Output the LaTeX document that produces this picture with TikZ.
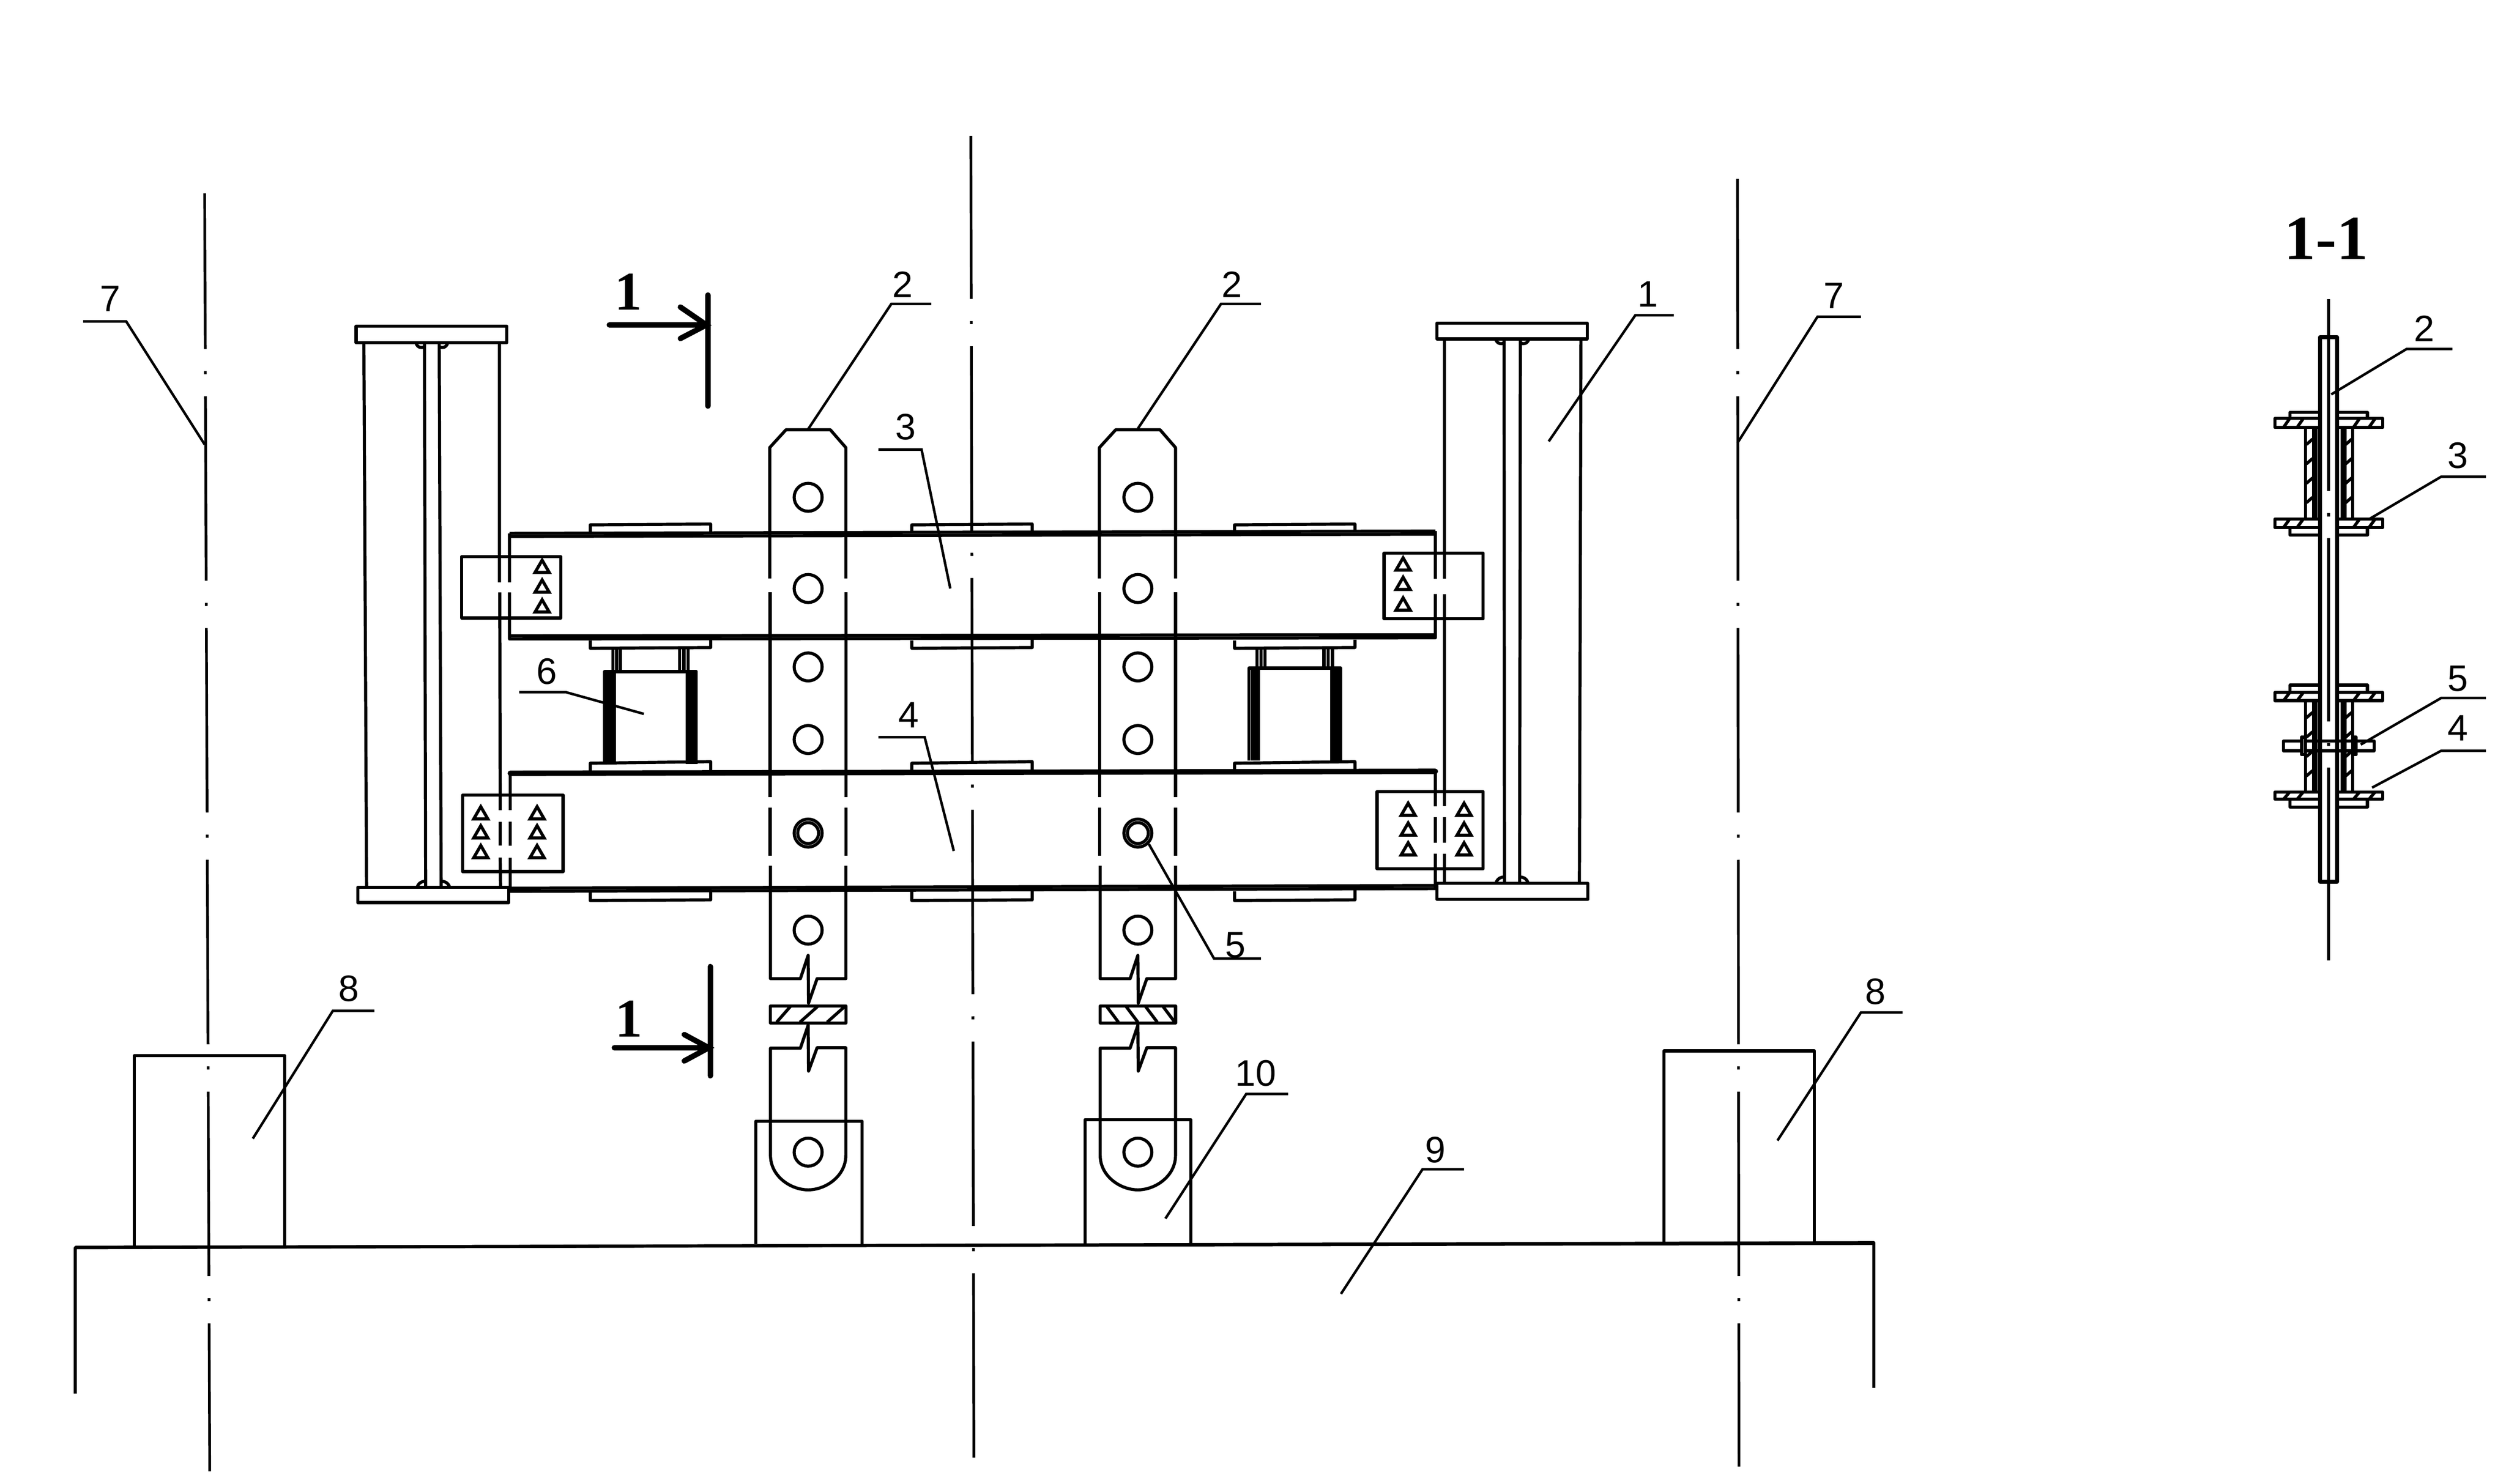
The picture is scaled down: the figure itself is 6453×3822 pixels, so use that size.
\documentclass[tikz,border=0pt]{standalone}
\usepackage{fontspec}
\setmainfont{Liberation Sans}
\usetikzlibrary{shapes.geometric}
\newfontfamily\markfont{Liberation Serif}

\tikzset{
	part/.style = {draw = black, line width = 0.8mm, line join = round},
	heavy/.style = {draw = black, line width = 1.4mm, line cap = round},
	leader/.style = {draw = black, line width = 0.65mm},
	axis/.style = {draw = black, line width = 0.7mm, dash pattern = on 47.5mm off 5.7mm on 0.8mm off 5.7mm},
	hole/.style = {circle, draw = black, line width = 0.8mm, minimum size = 7.2mm, inner sep = 0pt},
	bolt/.style = {regular polygon, regular polygon sides = 3, draw = black, line width = 0.8mm, minimum size = 4.2mm, inner sep = 0pt},
	tag/.style = {inner sep = 0pt, font = \fontsize{27}{27}\selectfont},
	secmark/.style = {inner sep = 0pt, font = \markfont\bfseries\fontsize{40}{40}\selectfont},
}

\begin{document}
\begin{tikzpicture}[x = 0.1mm, y = -0.1mm]
	\useasboundingbox (0,0) rectangle (6453,3822);

	% axes
	\draw[axis, dash phase = 7.4mm] (527,498) -- (540,3790);
	\draw[axis, dash phase = 5.5mm] (2500,350) -- (2508,3806);
	\draw[axis, dash phase = 3.7mm] (4474,461) -- (4478,3778);

	% columns
	\draw[part] (917,840) rectangle (1305,883);
	\draw[part] (921,2286) rectangle (1310,2325);
	\draw[part] (937,883) -- (944,2286);
	\draw[part] (1093,883) -- (1096,2286);
	\draw[part] (1131,883) -- (1136,2286);
	\draw[part] (1286,883) -- (1286,1500) (1287,1526) -- (1288,2087) (1288,2117) -- (1288,2178) (1288,2209) -- (1289,2286);
	\draw[part] (3700,832) rectangle (4087,873);
	\draw[part] (3700,2275) rectangle (4089,2317);
	\draw[part] (3719,873) -- (3719,1491) (3719,1530) -- (3719,2077) (3719,2105) -- (3719,2171) (3719,2199) -- (3719,2275);
	\draw[part] (3873,873) -- (3874,2275);
	\draw[part] (3915,873) -- (3913,2275);
	\draw[part] (4071,873) -- (4067,2275);
	\foreach \wx/\wy/\wd in {1093/883/-1, 1131/883/1, 3873/873/-1, 3915/873/1}
		\draw[part] (\wx+\wd*22,\wy) .. controls (\wx+\wd*18,\wy+14) and (\wx+\wd*6,\wy+14) .. (\wx,\wy+10);
	\foreach \wx/\wy/\wd in {1096/2286/-1, 1136/2286/1, 3874/2275/-1, 3913/2275/1}
		\draw[part] (\wx+\wd*22,\wy) .. controls (\wx+\wd*18,\wy-14) and (\wx+\wd*6,\wy-16) .. (\wx,\wy-16);

	% beams
	\draw[part] (1312,1374) -- (3696,1368) (3696,1368) -- (3696,1491) (3696,1530) -- (3696,1643) -- (1312,1646) -- (1312,1526) (1312,1500) -- (1312,1374);
	\draw[part] (1312,1382) -- (3696,1376) (1312,1638) -- (3696,1635);
	\draw[part] (1314,2296) -- (3696,2289) (3696,2289) -- (3696,2199) (3696,2171) -- (3696,2105) (3696,2077) -- (3696,1985);
	\draw[part] (1314,2288) -- (3696,2281);
	\draw[heavy] (1314,1992) -- (3696,1987);
	\draw[part] (1314,1990) -- (1314,2087) (1314,2117) -- (1314,2178) (1314,2209) -- (1314,2296);

	% cover plates
	\foreach \px in {1520, 2348, 3179} {
		\draw[part] (\px,1372) -- (\px,1352) -- (\px+310,1350) -- (\px+310,1370);
		\draw[part] (\px,1650) -- (\px,1670) -- (\px+310,1668) -- (\px+310,1648);
		\draw[part] (\px,1988) -- (\px,1966) -- (\px+310,1962) -- (\px+310,1984);
		\draw[part] (\px,2296) -- (\px,2320) -- (\px+310,2318) -- (\px+310,2292);
	}

	% spacers
	\foreach \sx/\sy in {1557/1730, 3216/1721} {
		\draw[part] (\sx+21,1668) -- (\sx+21,\sy) (\sx+31,1668) -- (\sx+31,\sy) (\sx+41,1668) -- (\sx+41,\sy);
		\draw[part] (\sx+193,1668) -- (\sx+193,\sy) (\sx+204,1668) -- (\sx+204,\sy) (\sx+215,1668) -- (\sx+215,\sy);
		\draw[part] (\sx,\sy+238) -- (\sx,\sy) -- (\sx+236,\sy) -- (\sx+236,\sy+238);
		\draw[part] (\sx+9,\sy) -- (\sx+9,\sy+238) (\sx+17,\sy) -- (\sx+17,\sy+238) (\sx+25,\sy) -- (\sx+25,\sy+238);
		\draw[part] (\sx+213,\sy) -- (\sx+213,\sy+238) (\sx+221,\sy) -- (\sx+221,\sy+238) (\sx+229,\sy) -- (\sx+229,\sy+238);
	}

	% gusset plates
	\draw[part] (1189,1434) rectangle (1444,1592);
	\draw[part] (3564,1425) rectangle (3819,1594);
	\draw[part] (1191,2048) rectangle (1450,2245);
	\draw[part] (3546,2039) rectangle (3819,2238);
	\foreach \bx/\by/\bn in {1396/1464/a, 1396/1515/b, 1396/1566/c, 3613/1458/d, 3613/1508/e, 3613/1561/f,
		1238/2099/g, 1238/2148/h, 1238/2199/i, 1383/2099/j, 1383/2148/k, 1383/2199/l,
		3626/2090/m, 3626/2141/n, 3626/2192/o, 3770/2090/p, 3770/2141/q, 3770/2192/r}
		\node[bolt] (bolt\bn) at (\bx,\by) {};

	% hangers
	\foreach \hx/\hname in {2081/A, 2930/B} {
		\draw[part] (\hx-99,1490) -- (\hx-99,1153) -- (\hx-57,1107) -- (\hx+57,1107) -- (\hx+97,1153) -- (\hx+97,1490);
		\foreach \gy/\gz in {1526/2053, 2080/2204} {
			\draw[part] (\hx-98,\gy) -- (\hx-98,\gz);
			\draw[part] (\hx+97,\gy) -- (\hx+97,\gz);
		}
		\draw[part] (\hx-97,2230) -- (\hx-97,2521) -- (\hx-20,2521) -- (\hx,2461) -- (\hx+1,2584) -- (\hx+23,2521) -- (\hx+97,2521) -- (\hx+97,2230);
		\draw[part] (\hx-97,2591) rectangle (\hx+97,2635);
		\draw[part] (\hx-20,2700) -- (\hx,2641) -- (\hx+1,2759) -- (\hx+23,2699) -- (\hx+97,2699) -- (\hx+97,2976)
			.. controls (\hx+97,3030) and (\hx+45,3065) .. (\hx,3065)
			.. controls (\hx-45,3065) and (\hx-97,3030) .. (\hx-97,2976) -- (\hx-97,2700) -- cycle;
		\foreach \hy/\hn in {1281/1, 1516/2, 1718/3, 1905/4, 2146/5, 2396/6, 2968/7}
			\node[hole] (hole\hname\hn) at (\hx,\hy) {};
		\node[hole, minimum size = 5.4mm] (pin\hname) at (\hx,2146) {};
	}
	\foreach \cx/\dx in {2000/35, 2060/45, 2130/45}
		\draw[part] (\cx,2633) -- (\cx+\dx,2593);
	\foreach \cx in {2850, 2900, 2950, 2995}
		\draw[part] (\cx,2593) -- (\cx+30,2633);

	% supports and slab
	\draw[part] (1946,3205) -- (1946,2888) -- (2220,2888) -- (2220,3205);
	\draw[part] (2794,3203) -- (2794,2884) -- (3066,2884) -- (3066,3203);
	\draw[part] (346,3214) -- (346,2719) -- (733,2719) -- (733,3212);
	\draw[part] (4285,3203) -- (4285,2707) -- (4672,2707) -- (4672,3201);
	\draw[part] (194,3590) -- (194,3214) -- (4825,3201) -- (4825,3575);
	\draw[part] (194,3213) -- (4825,3203);

	% section marks
	\draw[heavy] (1823,760) -- (1823,1046);
	\draw[heavy] (1569,837) -- (1819,837) (1752,791) -- (1819,837) -- (1752,872);
	\draw[heavy] (1829,2490) -- (1829,2771);
	\draw[heavy] (1582,2699) -- (1825,2699) (1762,2665) -- (1825,2699) -- (1762,2733);
	\node[secmark] (markA) at (1618,752) {1};
	\node[secmark] (markB) at (1619,2624) {1};

	% section 1-1
	\node[secmark, font = \markfont\bfseries\fontsize{46}{46}\selectfont] (title) at (5990,615) {1-1};
	\draw[part] (5996,771) -- (5996,1265) (5996,1322) -- (5996,1330) (5996,1386) -- (5996,1859) (5996,1914) -- (5996,1922) (5996,1977) -- (5996,2474);
	\draw[part, line width = 1mm] (5974,869) -- (5974,2271) -- (6018,2271) -- (6018,869) -- cycle;
	\foreach \fy/\fz in {1078/1101, 1337/1359, 1784/1805, 2040/2059} {
		\draw[part] (5974,\fy) -- (5858,\fy) -- (5858,\fz) -- (5974,\fz);
		\draw[part] (6018,\fy) -- (6135,\fy) -- (6135,\fz) -- (6018,\fz);
		\foreach \qx in {5880, 5915, 6060, 6100}
			\draw[part] (\qx,\fz) -- (\qx+16,\fy);
	}
	\foreach \cy/\cz in {1062/1078, 1765/1784} {
		\draw[part] (5974,\cy) -- (5897,\cy) -- (5897,\cz);
		\draw[part] (6018,\cy) -- (6096,\cy) -- (6096,\cz);
	}
	\foreach \cy/\cz in {1378/1359, 2079/2059} {
		\draw[part] (5974,\cy) -- (5897,\cy) -- (5897,\cz);
		\draw[part] (6018,\cy) -- (6096,\cy) -- (6096,\cz);
	}
	\foreach \wy/\wz in {1101/1337, 1805/2040} {
		\draw[part] (5937,\wy) -- (5937,\wz) (5957,\wy) -- (5957,\wz) (5964,\wy) -- (5964,\wz);
		\draw[part] (6031,\wy) -- (6031,\wz) (6038,\wy) -- (6038,\wz) (6058,\wy) -- (6058,\wz);
		\foreach \wq in {30, 80, 130, 180}
			\draw[part] (5939,\wy+\wq+14) -- (5955,\wy+\wq) (6040,\wy+\wq+14) -- (6056,\wy+\wq);
	}
	\draw[part] (5880,1909) rectangle (6113,1934);
	\draw[part, fill = white] (5926,1899) rectangle (5935,1944);
	\draw[part, fill = white] (6059,1899) rectangle (6067,1944);
	\draw[part] (5974,1909) -- (6018,1909) (5974,1934) -- (6018,1934);

	% leaders
	\draw[leader] (214,828) -- (325,828) -- (527,1145);
	\draw[leader] (4474,1141) -- (4680,816) -- (4792,816);
	\draw[leader] (2080,1107) -- (2295,783) -- (2398,783);
	\draw[leader] (2930,1104) -- (3144,783) -- (3247,783);
	\draw[leader] (3988,1137) -- (4211,812) -- (4310,812);
	\draw[leader] (2447,1516) -- (2373,1158) -- (2262,1158);
	\draw[leader] (2456,2192) -- (2381,1899) -- (2262,1899);
	\draw[leader] (1337,1783) -- (1457,1783) -- (1658,1839);
	\draw[leader] (holeB5.south east) -- (3126,2469) -- (3247,2469);
	\draw[leader] (651,2933) -- (857,2604) -- (964,2604);
	\draw[leader] (4577,2938) -- (4792,2608) -- (4899,2608);
	\draw[leader] (3001,3139) -- (3209,2818) -- (3317,2818);
	\draw[leader] (3453,3333) -- (3663,3012) -- (3770,3012);
	\draw[leader] (6003,1016) -- (6197,899) -- (6315,899);
	\draw[leader] (6101,1337) -- (6286,1228) -- (6401,1228);
	\draw[leader] (6079,1918) -- (6286,1798) -- (6401,1798);
	\draw[leader] (6108,2029) -- (6286,1934) -- (6401,1934);

	% labels
	\node[tag] (tagA) at (284,770) {7};
	\node[tag] (tagB) at (4722,762) {7};
	\node[tag] (tagC) at (2324,733) {2};
	\node[tag] (tagD) at (3172,733) {2};
	\node[tag] (tagE) at (4244,758) {1};
	\node[tag] (tagF) at (2332,1100) {3};
	\node[tag] (tagG) at (2340,1842) {4};
	\node[tag] (tagH) at (1408,1730) {6};
	\node[tag] (tagI) at (3181,2435) {5};
	\node[tag] (tagJ) at (898,2546) {8};
	\node[tag] (tagK) at (4829,2554) {8};
	\node[tag] (tagL) at (3234,2765) {10};
	\node[tag] (tagM) at (3696,2962) {9};
	\node[tag] (tagN) at (6243,846) {2};
	\node[tag] (tagO) at (6329,1173) {3};
	\node[tag] (tagP) at (6329,1748) {5};
	\node[tag] (tagQ) at (6329,1876) {4};
\end{tikzpicture}
\end{document}
